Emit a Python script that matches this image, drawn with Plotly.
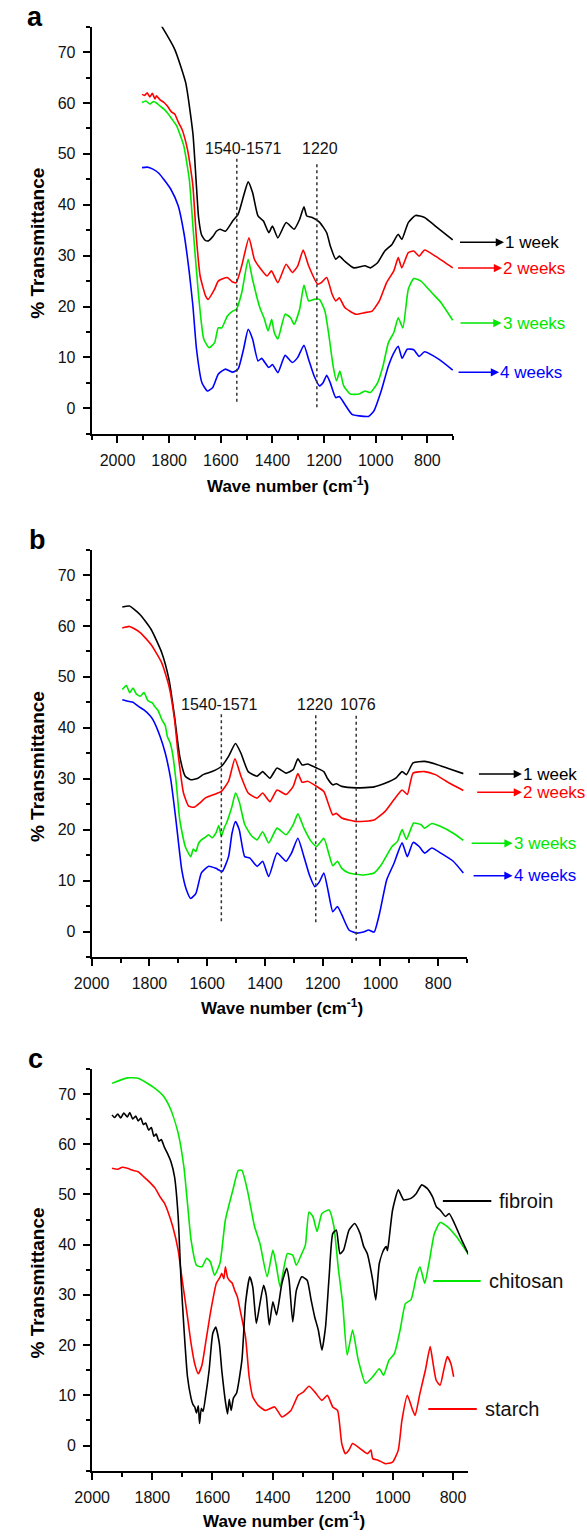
import plotly.graph_objects as go

# ======================= DATA =======================
# Panel (a): FTIR spectra after 1-4 weeks
a_1w_wn = [1900, 1860, 1828, 1778, 1736, 1708, 1696, 1686, 1674, 1660, 1648, 1630, 1617, 1603, 1582, 1554,
           1533, 1512, 1494, 1477, 1456, 1435, 1414, 1400, 1379, 1347, 1316, 1295, 1278, 1267, 1246, 1218,
           1190, 1176, 1155, 1141, 1120, 1085, 1042, 1021, 993, 965, 937, 913, 899, 874, 846, 811, 769, 702]
a_1w_t = [79, 77.5, 75, 70.5, 64, 54, 45, 37.5, 34, 33.0, 32.9, 33.8, 34.8, 35.2, 34.8, 36.8,
          38.1, 41.7, 44.5, 42.4, 37.8, 36.8, 34.5, 35.8, 33.5, 36.5, 35.2, 37.1, 39.6, 37.8, 37.5, 36.6,
          34.5, 31.9, 29.3, 29.9, 28.9, 27.6, 28.0, 27.6, 28.6, 30.9, 32.2, 34.2, 33.2, 36.5, 37.9, 37.5, 35.8, 33.1]

a_2w_wn = [1905, 1895, 1885, 1875, 1865, 1855, 1849, 1835, 1820, 1807, 1790, 1778, 1765, 1750, 1740, 1729,
           1718, 1708, 1694, 1680, 1659, 1649, 1624, 1610, 1575, 1554, 1540, 1519, 1491, 1470, 1449, 1421,
           1404, 1379, 1347, 1323, 1302, 1281, 1260, 1225, 1211, 1190, 1169, 1155, 1141, 1120, 1078, 1042,
           1014, 986, 958, 930, 913, 899, 874, 853, 832, 811, 769, 702]
a_2w_t = [61.7, 61.5, 62.0, 61.2, 61.9, 60.8, 61.4, 60.6, 60.1, 59.4, 58.2, 57.8, 56.3, 54.8, 53.2, 50.9,
          47.5, 43.7, 33.2, 26, 22.1, 21.4, 23.4, 25, 25.7, 24.8, 24.7, 28, 33.5, 29.3, 27.6, 26,
          27, 24.7, 28.3, 26.7, 28, 31.1, 28, 24.4, 24.7, 25.7, 22.4, 21.1, 21.7, 19.8, 18.5, 18.8,
          19.1, 21.1, 24.7, 27, 29.6, 27.6, 30.6, 30.9, 29.9, 31.1, 29.9, 27.6]

a_3w_wn = [1905, 1890, 1875, 1860, 1849, 1835, 1820, 1807, 1790, 1771, 1758, 1743, 1722, 1706, 1687, 1666,
           1645, 1624, 1610, 1596, 1575, 1554, 1540, 1519, 1494, 1477, 1449, 1431, 1417, 1403, 1393, 1379,
           1351, 1330, 1316, 1295, 1278, 1260, 1239, 1218, 1197, 1183, 1165, 1152, 1139, 1124, 1099, 1064,
           1042, 1021, 993, 972, 951, 930, 913, 895, 874, 853, 825, 783, 748, 702]
a_3w_t = [60.1, 60.4, 59.8, 60.3, 60, 59.4, 58.8, 58.1, 56.9, 55.5, 53.8, 51.5, 45, 34.5, 22.7, 13.6,
          11.9, 12.9, 15.8, 15.8, 18.1, 19.1, 19.4, 22.7, 29.3, 25.3, 19.8, 17.5, 15.2, 17.5, 14.9, 13.6,
          18.5, 17.8, 16.5, 19.4, 24.2, 21.1, 21.4, 21.4, 19.1, 14.9, 8.3, 5.4, 7.3, 4.4, 2.8, 2.8,
          3.4, 3.1, 5, 8.3, 12.9, 14.9, 17.8, 15.8, 23.4, 25.5, 25, 22.7, 20.8, 17.3]

a_4w_wn = [1905, 1885, 1863, 1840, 1821, 1793, 1765, 1743, 1722, 1708, 1694, 1673, 1652, 1631, 1610, 1582,
           1554, 1533, 1512, 1494, 1477, 1456, 1442, 1414, 1400, 1379, 1351, 1323, 1302, 1278, 1260, 1239,
           1218, 1204, 1190, 1176, 1155, 1141, 1120, 1092, 1064, 1028, 1007, 979, 951, 930, 913, 898,
           878, 853, 832, 811, 755, 702]
a_4w_t = [47.3, 47.4, 47, 46.2, 45, 43, 39.8, 34.5, 26.7, 20.1, 11.6, 5, 3.4, 4.1, 6.7, 7.7,
          7.1, 7.7, 11.6, 15.5, 13.6, 9.3, 9.8, 8, 8.6, 7, 10.4, 9, 10, 12.4, 9.6, 6.4,
          4.4, 5, 6.5, 5, 2.1, 2.3, 0.8, -1.2, -1.5, -1.6, -0.5, 3.4, 8.3, 10.9, 12.2, 9.8,
          11.6, 11.5, 10.2, 11.1, 9.6, 7.5]

# Panel (b)
b_1w_wn = [1894, 1869, 1832, 1794, 1757, 1732, 1713, 1695, 1676, 1657, 1632, 1614, 1583, 1551, 1526, 1502,
           1483, 1458, 1427, 1408, 1383, 1358, 1327, 1302, 1286, 1271, 1252, 1221, 1196, 1184, 1165, 1153,
           1134, 1084, 1022, 984, 947, 925, 910, 887, 847, 810, 760, 713]
b_1w_t = [63.7, 63.9, 62.2, 59.3, 54.7, 49.4, 42.2, 34.4, 30.5, 29.8, 30.1, 30.8, 31.4, 32.4, 34.4, 36.9,
          35, 31.4, 30.5, 31.4, 30.1, 32.1, 31.1, 31.8, 33.9, 32.7, 32.9, 32.1, 31.4, 30.1, 28.8, 29,
          28.5, 28.2, 28.4, 29.1, 30.1, 31.4, 30.8, 33.1, 33.4, 32.9, 31.9, 31]

b_2w_wn = [1894, 1869, 1832, 1794, 1757, 1732, 1713, 1701, 1682, 1664, 1645, 1626, 1607, 1576, 1551, 1526,
           1504, 1483, 1458, 1427, 1408, 1383, 1358, 1327, 1302, 1286, 1271, 1252, 1221, 1196, 1181, 1165,
           1153, 1134, 1084, 1022, 984, 953, 925, 907, 887, 847, 810, 760, 713]
b_2w_t = [59.6, 59.9, 58.7, 56.3, 52.7, 48.1, 41.6, 35, 27.2, 24.6, 24.4, 25.2, 26.2, 26.9, 27.5, 29.5,
          33.9, 30.5, 27.2, 26.2, 27.2, 25.5, 27.8, 26.9, 28.5, 31, 29.3, 29.5, 28.5, 27.5, 25.2, 22.9,
          23.2, 22.3, 21.6, 21.9, 23.6, 25.9, 27.8, 26.9, 31.1, 31.4, 30.8, 29.1, 27.7]

b_3w_wn = [1894, 1880, 1868, 1857, 1845, 1832, 1819, 1805, 1790, 1782, 1770, 1757, 1745, 1738, 1728, 1720,
           1707, 1695, 1676, 1657, 1648, 1639, 1630, 1620, 1607, 1595, 1583, 1570, 1560, 1551, 1540, 1533,
           1514, 1502, 1489, 1470, 1445, 1427, 1408, 1387, 1358, 1327, 1302, 1286, 1265, 1240, 1221, 1196,
           1178, 1165, 1149, 1134, 1109, 1059, 1022, 997, 960, 941, 925, 910, 885, 860, 847, 822, 791, 748, 713]
b_3w_t = [47.5, 48.3, 46.9, 47.8, 46.6, 46.2, 46.9, 45.3, 44.9, 44.2, 43.4, 41.6, 40.4, 38.3, 37, 35,
          29.1, 21.9, 16.7, 14.7, 16.2, 15.7, 17.3, 18, 18.5, 19, 18.4, 19.3, 20.8, 18.7, 20.5, 21.3,
          24.6, 27.2, 25.5, 21, 18.7, 18, 19.6, 17.4, 20.3, 19, 21, 23.1, 20.3, 17.7, 16.7, 18.3,
          15.1, 12.9, 13.8, 12.4, 11.5, 11.1, 11.5, 13.1, 16.7, 17.7, 20, 18.1, 21.3, 21, 20.3, 21.2, 20.6, 19.3, 17.9]

b_4w_wn = [1894, 1875, 1857, 1838, 1819, 1800, 1788, 1763, 1745, 1726, 1707, 1688, 1672, 1657, 1639, 1620,
           1595, 1570, 1548, 1526, 1514, 1502, 1489, 1470, 1452, 1427, 1408, 1387, 1358, 1327, 1308, 1286,
           1265, 1246, 1227, 1211, 1196, 1181, 1165, 1149, 1134, 1109, 1084, 1059, 1041, 1022, 1003, 978,
           953, 925, 907, 887, 866, 847, 822, 791, 748, 713]
b_4w_t = [45.5, 45.2, 45, 44.2, 43.5, 42.5, 41.6, 38.3, 35, 29.8, 21.3, 12.1, 8.2, 6.5, 7.5, 11.5,
          12.8, 12.4, 11.8, 14.7, 19.3, 21.6, 20, 14.7, 14.4, 12.8, 13.8, 10.8, 15.4, 13.8, 15.4, 18.3,
          14.7, 11.1, 8.8, 9.8, 11.5, 7.9, 3.9, 4.9, 3.3, 0.3, -0.3, -0.1, 0.3, -0.1, 3.6, 10.2,
          13.4, 17.4, 14.7, 17.5, 16.7, 15.4, 16.4, 15.4, 13.8, 11.5]

# Panel (c): pure components
c_fib_wn = [1934, 1925, 1915, 1905, 1895, 1883, 1875, 1865, 1855, 1847, 1838, 1830, 1822, 1812, 1803, 1795,
            1787, 1778, 1770, 1760, 1750, 1738,
            1726, 1714, 1705, 1695, 1683, 1671, 1665, 1659, 1653, 1647, 1643, 1637, 1631, 1623, 1611, 1599,
            1589, 1577, 1569, 1562, 1556, 1550, 1544, 1538, 1530, 1520, 1502, 1490, 1476, 1466, 1454, 1442,
            1430, 1421, 1411, 1399, 1387, 1369, 1353, 1345, 1333, 1321, 1303, 1285, 1272, 1260, 1248, 1236,
            1224, 1212, 1200, 1188, 1176, 1164, 1146, 1127, 1109, 1097, 1085, 1067, 1057, 1045, 1031, 1022,
            1018, 1013, 1001, 982, 964, 940, 922, 904, 886, 868, 855, 843, 825, 813, 795, 771, 747]
c_fib_t = [65.8, 65.3, 66.0, 65.2, 66.2, 65.4, 66.3, 65.0, 65.6, 64.6, 65.2, 63.9, 64.2, 62.8, 63.3, 61.6,
           62.0, 60.6, 60.9, 59.4, 58.2, 56.5,
           53.5, 45.6, 33.6, 23.6, 13.7, 9.4, 8.2, 7.7, 6.5, 7.9, 4.4, 7.4, 6.8, 9.7, 15, 22.3,
           23.6, 20.3, 15, 11.2, 8.4, 6.3, 9.2, 7, 9.5, 10.4, 17, 28.3, 33.6, 31.6, 24.3, 28.3,
           31.9, 29.9, 24, 28.6, 26, 32.3, 35.3, 32.9, 24.6, 30.9, 33.6, 32.9, 29, 25.6, 23, 19,
           23.6, 33.6, 42.2, 42.9, 38.2, 38.9, 42.9, 44.2, 42.2, 39.6, 38.2, 32.9, 29, 36.3, 38.9, 39.6,
           38.8, 40.9, 46.9, 50.9, 48.9, 49.2, 50.2, 51.9, 51.2, 49.5, 47.5, 46.9, 45.6, 46.2, 44.2, 40.9, 37.9]

c_chi_wn = [1934, 1883, 1847, 1798, 1762, 1738, 1714, 1695, 1683, 1671, 1653, 1635, 1619, 1607, 1593, 1575,
            1557, 1532, 1514, 1502, 1484, 1460, 1442, 1418, 1399, 1387, 1375, 1351, 1333, 1321, 1303, 1291,
            1279, 1266, 1252, 1236, 1212, 1196, 1182, 1167, 1152, 1134, 1115, 1091, 1067, 1045, 1031, 1013,
            995, 976, 958, 940, 922, 910, 894, 880, 862, 843, 819, 789, 747]
c_chi_t = [72.1, 73.2, 73.1, 71.4, 69.5, 66.8, 62.2, 55.5, 48.2, 40.9, 35.9, 35.6, 37.3, 36.6, 33.9, 36.3,
           44.9, 50.9, 54.8, 54.8, 50.9, 43.6, 40.2, 33.6, 38.9, 35.6, 31.6, 38.2, 37.9, 35.9, 38.2, 39.9,
           46.5, 45.6, 42.6, 46.2, 46.9, 43.6, 35.6, 28.3, 18, 23, 17, 12.4, 13.7, 15.3, 14, 17,
           18.3, 23, 28.3, 29, 33.6, 35.6, 32.3, 36.3, 42.2, 44.4, 43.6, 41.6, 37.9]

c_sta_wn = [1934, 1915, 1900, 1883, 1865, 1847, 1830, 1810, 1790, 1774, 1760, 1750, 1732, 1714, 1702, 1683,
            1671, 1659, 1647, 1635, 1623, 1605, 1587, 1575, 1569, 1562, 1557, 1550, 1544, 1535, 1526, 1517,
            1508, 1490, 1478, 1466, 1448, 1424, 1393, 1369, 1339, 1315, 1297, 1279, 1260, 1236, 1218, 1200,
            1184, 1170, 1158, 1146, 1134, 1109, 1085, 1073, 1067, 1049, 1025, 1001, 982, 970, 952, 934,
            926, 910, 892, 876, 868, 856, 843, 831, 819, 807, 798]
c_sta_t = [55.2, 55.0, 55.4, 55.2, 54.8, 54.5, 53.6, 52.5, 51.2, 49.5, 48.3, 46.9, 43.6, 38.9, 33.6, 25.6,
           20.3, 16.3, 14.3, 16, 20.3, 27, 32.3, 33.5, 34.3, 33.2, 35.6, 33.5, 32.9, 32.4, 30.9, 29.6,
           27, 21.6, 13.7, 9.7, 8, 7, 7.7, 5.7, 7, 10, 10.7, 11.8, 10.7, 9, 10, 7.7,
           7, 0.4, -1.6, -0.9, 0.4, -0.6, -1.6, -0.9, -2.6, -2.9, -3.6, -3.3, -0.9, 5, 10, 7,
           6, 10.4, 15, 19.7, 17, 13, 12, 15, 17.7, 16.3, 13.7]

week_labels = ["1 week", "2 weeks", "3 weeks", "4 weeks"]
component_labels = ["fibroin", "chitosan", "starch"]
x_tick_vals = [2000, 1800, 1600, 1400, 1200, 1000, 800]
x_tick_text = ["2000", "1800", "1600", "1400", "1200", "1000", "800"]
x_minor_vals = [2100, 1900, 1700, 1500, 1300, 1100, 900, 700]
y_tick_vals = [0, 10, 20, 30, 40, 50, 60, 70]
y_tick_text = ["0", "10", "20", "30", "40", "50", "60", "70"]
y_minor_vals = [-5, 5, 15, 25, 35, 45, 55, 65, 75]
a_band_labels = ["1540-1571", "1220"]
a_band_wn = [1538, 1228]
b_band_labels = ["1540-1571", "1220", "1076"]
b_band_wn = [1551, 1224, 1084]

# ======================= FIGURE =======================
W, H = 587, 1538
FONT = "Liberation Sans, Arial, Helvetica, sans-serif"
BLACK, RED, GREEN, BLUE = "#000000", "#ff0000", "#00e800", "#0000ff"
week_colors = [BLACK, RED, GREEN, BLUE]


def px(x):
    return x / W


def py(y):
    return 1 - y / H


fig = go.Figure()


def add_line(wn, t, color, xa, ya):
    fig.add_trace(go.Scatter(x=wn, y=t, mode="lines", xaxis=xa, yaxis=ya, showlegend=False,
                             hoverinfo="skip",
                             line=dict(color=color, width=1.6, shape="spline", smoothing=0.5)))


for wn, t, col in zip([a_1w_wn, a_2w_wn, a_3w_wn, a_4w_wn], [a_1w_t, a_2w_t, a_3w_t, a_4w_t], week_colors):
    add_line(wn, t, col, "x", "y")
for wn, t, col in zip([b_1w_wn, b_2w_wn, b_3w_wn, b_4w_wn], [b_1w_t, b_2w_t, b_3w_t, b_4w_t], week_colors):
    add_line(wn, t, col, "x2", "y2")
for wn, t, col in zip([c_chi_wn, c_sta_wn, c_fib_wn], [c_chi_t, c_sta_t, c_fib_t], [GREEN, RED, BLACK]):
    add_line(wn, t, col, "x3", "y3")


def xaxis(domain, rng, anchor):
    return dict(domain=domain, range=rng, anchor=anchor, showline=True, linecolor="black", linewidth=2,
                ticks="outside", ticklen=7, tickwidth=2, tickcolor="black", tickmode="array",
                tickvals=x_tick_vals, ticktext=x_tick_text, ticklabelstandoff=4,
                minor=dict(ticks="outside", ticklen=4, tickwidth=1.5, tickcolor="black",
                           tickmode="array", tickvals=x_minor_vals),
                showgrid=False, zeroline=False, tickfont=dict(size=16, family=FONT, color="#111"),
                fixedrange=True)


def yaxis(domain, anchor):
    return dict(domain=domain, range=[-5, 75], anchor=anchor, showline=True, linecolor="black", linewidth=2,
                ticks="outside", ticklen=7, tickwidth=2, tickcolor="black", tickmode="array",
                tickvals=y_tick_vals, ticktext=y_tick_text, ticklabelstandoff=4,
                minor=dict(ticks="outside", ticklen=4, tickwidth=1.5, tickcolor="black",
                           tickmode="array", tickvals=y_minor_vals),
                showgrid=False, zeroline=False, tickfont=dict(size=16, family=FONT, color="#111"),
                fixedrange=True)


# pixel geometry of the three panels
pa = dict(l=76, r=449, t=26.7, b=433.7)
pb = dict(l=76, r=463.3, t=549.5, b=957)
pc = dict(l=76.5, r=464.3, t=1068.8, b=1470.7)

fig.update_layout(
    width=W, height=H, autosize=False, margin=dict(l=0, r=0, t=0, b=0),
    paper_bgcolor="white", plot_bgcolor="white", showlegend=False,
    font=dict(family=FONT, color="black"),
    xaxis=xaxis([px(pa["l"]), px(pa["r"])], [2100, 700], "y"),
    yaxis=yaxis([py(pa["b"]), py(pa["t"])], "x"),
    xaxis2=xaxis([px(pb["l"]), px(pb["r"])], [2000, 700], "y2"),
    yaxis2=yaxis([py(pb["b"]), py(pb["t"])], "x2"),
    xaxis3=xaxis([px(pc["l"]), px(pc["r"])], [2000, 750], "y3"),
    yaxis3=yaxis([py(pc["b"]), py(pc["t"])], "x3"),
)

# dotted marker lines and their labels
for wn, y0, y1 in zip(a_band_wn, [1.3, 0.2], [49.5, 48.2]):
    fig.add_shape(type="line", xref="x", yref="y", x0=wn, x1=wn, y0=y0, y1=y1,
                  line=dict(color="#333", width=1.5, dash="dot"))
for xpos, lab in zip([1514, 1216], a_band_labels):
    fig.add_annotation(xref="x", yref="y", x=xpos, y=51.0, text=lab, showarrow=False,
                       font=dict(size=16, family=FONT, color="#111"))

for wn, y0, y1 in zip(b_band_wn, [2.0, 1.8, -1.8], [43.2, 42.6, 42.6]):
    fig.add_shape(type="line", xref="x2", yref="y2", x0=wn, x1=wn, y0=y0, y1=y1,
                  line=dict(color="#333", width=1.5, dash="dot"))
for xpos, lab in zip([1559, 1227, 1078], b_band_labels):
    fig.add_annotation(xref="x2", yref="y2", x=xpos, y=44.5, text=lab, showarrow=False,
                       font=dict(size=16, family=FONT, color="#111"))

# arrow legends for (a) and (b)
a_leg = [(456, 500, 242.3), (454, 498, 268), (456.5, 497.5, 323), (454.5, 495, 372.3)]
b_leg = [(475.5, 518.5, 774), (473.7, 518.5, 792.3), (468, 509, 843.3), (470, 509, 875.7)]
for leg in (a_leg, b_leg):
    for (x0, x1, yy), lab, col in zip(leg, week_labels, week_colors):
        fig.add_annotation(xref="paper", yref="paper", x=px(x0), y=py(yy), ax=x1 - x0, ay=0,
                           text=lab, showarrow=True, arrowside="start", startarrowhead=2,
                           startarrowsize=1.1, arrowwidth=1.5, arrowcolor=col, xanchor="left",
                           yanchor="middle", borderpad=0,
                           font=dict(size=17, family=FONT, color=col))

# line legend for (c)
c_leg = [(438.3, 488.3, 1201, 494.5), (428.3, 477.3, 1281, 484), (423.3, 473.3, 1409, 480)]
for (x0, x1, yy, xt), lab, col in zip(c_leg, component_labels, [BLACK, GREEN, RED]):
    fig.add_shape(type="line", xref="paper", yref="paper", x0=px(x0), x1=px(x1), y0=py(yy), y1=py(yy),
                  line=dict(color=col, width=2))
    fig.add_annotation(xref="paper", yref="paper", x=px(xt), y=py(yy), text=lab, showarrow=False,
                       xanchor="left", yanchor="middle", font=dict(size=20, family=FONT, color="#111"))

# panel letters
for lab, xx, yy in [("a", 18, 17), ("b", 20, 540), ("c", 18, 1059)]:
    fig.add_annotation(xref="paper", yref="paper", x=px(xx), y=py(yy), text="<b>%s</b>" % lab,
                       showarrow=False, xanchor="center", yanchor="middle",
                       font=dict(size=27, family=FONT, color="black"))

# axis titles
for yc in [243.3, 766.7, 1283]:
    fig.add_annotation(xref="paper", yref="paper", x=px(20), y=py(yc), text="<b>% Transmittance</b>",
                       showarrow=False, textangle=-90, xanchor="center", yanchor="middle",
                       font=dict(size=19, family=FONT, color="black"))
for xc, yc in [(278.5, 485), (272.8, 1006.7), (274.8, 1520)]:
    fig.add_annotation(xref="paper", yref="paper", x=px(xc), y=py(yc),
                       text="<b>Wave number (cm<sup>-1</sup>)</b>", showarrow=False,
                       xanchor="center", yanchor="middle",
                       font=dict(size=17, family=FONT, color="black"))

fig.write_html("out.html")
